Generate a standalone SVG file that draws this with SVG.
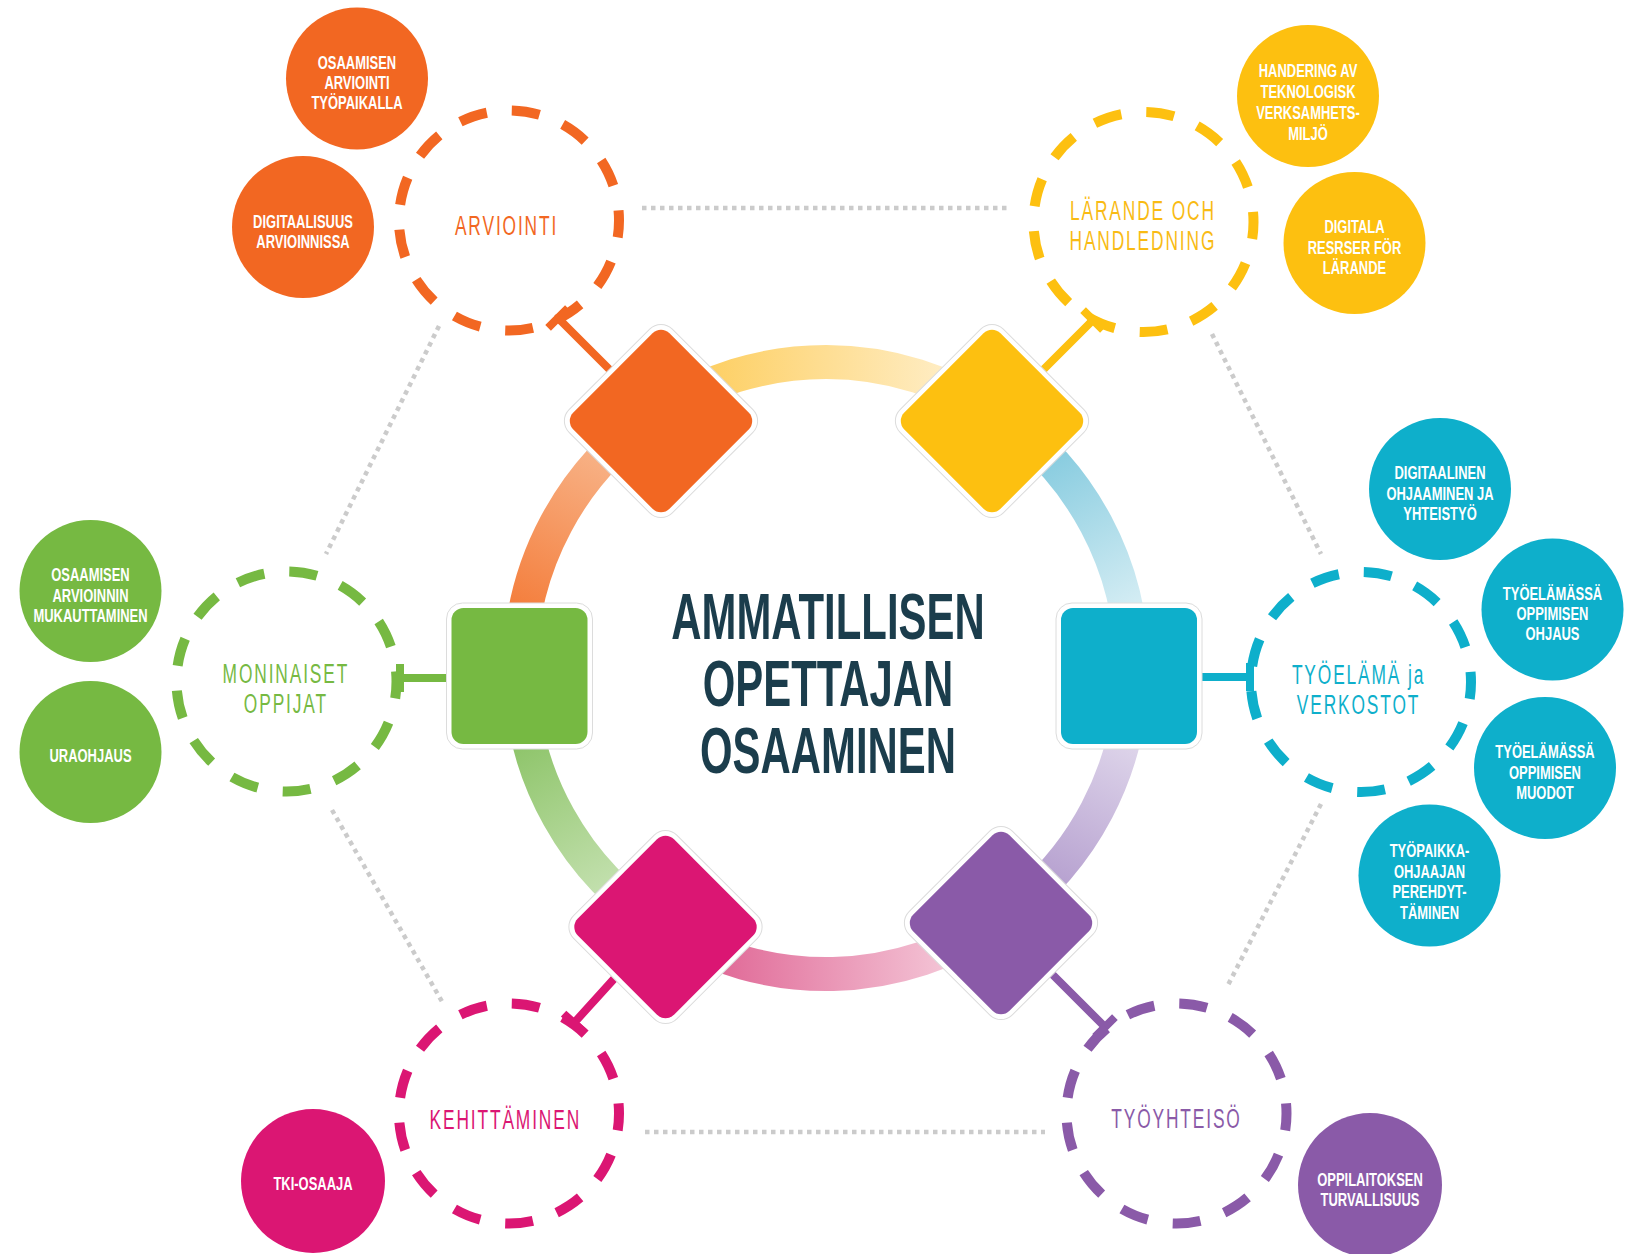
<svg xmlns="http://www.w3.org/2000/svg" width="1638" height="1254" viewBox="0 0 1638 1254">
<style>
.dot{fill:none;stroke:#cbcbcb;stroke-width:4.5;stroke-dasharray:4.5 4.5}
.arc{fill:none;stroke-width:34}
.tb{fill:none;stroke-width:8}
.hub{fill:none;stroke-width:10;stroke-dasharray:28 25.17;stroke-dashoffset:11}
.hl{font-family:"Liberation Sans",Arial,sans-serif;font-size:28px;letter-spacing:3px;text-anchor:middle}
.st{font-family:"Liberation Sans",Arial,sans-serif;font-weight:bold;font-size:18px;fill:#fff;text-anchor:middle}
.ct{font-family:"Liberation Sans",Arial,sans-serif;font-weight:bold;font-size:64px;fill:#1b3d4c;text-anchor:middle}
.frame{fill:#fff;stroke:#dcdcdc;stroke-width:1}
.or{fill:#f26722}.ye{fill:#fdc010}.gr{fill:#76b942}.cy{fill:#0eafcb}.pk{fill:#db1673}.pu{fill:#8a5aa8}
.sor{stroke:#f26722}.sye{stroke:#fdc010}.sgr{stroke:#76b942}.scy{stroke:#0eafcb}.spk{stroke:#db1673}.spu{stroke:#8a5aa8}
.tor{fill:#f26722}.tye{fill:#f9bb14}.tgr{fill:#76b942}.tcy{fill:#0eafcb}.tpk{fill:#db1673}.tpu{fill:#8a5aa8}
</style>
<defs>
<linearGradient id="gA1" gradientUnits="userSpaceOnUse" x1="520" y1="668" x2="656" y2="413"><stop offset="0" stop-color="#f36f27"/><stop offset="1" stop-color="#f9c4a0"/></linearGradient>
<linearGradient id="gA2" gradientUnits="userSpaceOnUse" x1="656" y1="413" x2="997" y2="414"><stop offset="0" stop-color="#fdc94f"/><stop offset="1" stop-color="#fff3d8"/></linearGradient>
<linearGradient id="gA3" gradientUnits="userSpaceOnUse" x1="997" y1="414" x2="1132" y2="668"><stop offset="0" stop-color="#6cc0d8"/><stop offset="1" stop-color="#ecf7fa"/></linearGradient>
<linearGradient id="gA4" gradientUnits="userSpaceOnUse" x1="1132" y1="668" x2="999" y2="920"><stop offset="0" stop-color="#eeeaf5"/><stop offset="1" stop-color="#a88ec6"/></linearGradient>
<linearGradient id="gA5" gradientUnits="userSpaceOnUse" x1="999" y1="920" x2="665" y2="928"><stop offset="0" stop-color="#f8d9e4"/><stop offset="1" stop-color="#dc5589"/></linearGradient>
<linearGradient id="gA6" gradientUnits="userSpaceOnUse" x1="665" y1="928" x2="520" y2="668"><stop offset="0" stop-color="#d6eac7"/><stop offset="1" stop-color="#7aba50"/></linearGradient>
<g id="sq">
<rect class="frame" x="-73" y="-73" width="146" height="146" rx="16"/>
</g>
</defs>

<g id="ring">
<path class="arc" stroke="url(#gA1)" d="M520,668 A306,306 0 0 1 656.2,413.4"/>
<path class="arc" stroke="url(#gA2)" d="M656.2,413.4 A306,306 0 0 1 996.7,414"/>
<path class="arc" stroke="url(#gA3)" d="M996.7,414 A306,306 0 0 1 1132,668"/>
<path class="arc" stroke="url(#gA4)" d="M1132,668 A306,306 0 0 1 999.3,920.2"/>
<path class="arc" stroke="url(#gA5)" d="M999.3,920.2 A306,306 0 0 1 664.7,928.1"/>
<path class="arc" stroke="url(#gA6)" d="M664.7,928.1 A306,306 0 0 1 520,668"/>
</g>

<g id="connectors">
<line class="dot" x1="642" y1="208" x2="1008" y2="208"/>
<line class="dot" x1="645" y1="1132" x2="1045" y2="1132"/>
<line class="dot" x1="439" y1="326" x2="326" y2="554"/>
<line class="dot" x1="332" y1="810" x2="444" y2="1005"/>
<line class="dot" x1="1212" y1="334" x2="1321" y2="554"/>
<line class="dot" x1="1321" y1="804" x2="1227" y2="987"/>
<path class="tb sor" d="M613,373 L558,318 M548.1,327.9 L567.9,308.1"/>
<path class="tb sye" d="M1040,373 L1093,320 M1083.1,310.1 L1102.9,329.9"/>
<path class="tb spk" d="M617.5,975 L574,1023 M563.6,1013.6 L584.4,1032.4"/>
<path class="tb spu" d="M1049,971 L1105,1027 M1095.1,1036.9 L1114.9,1017.1"/>
<path class="tb sgr" d="M452,678 L400,678 M400,664 L400,692"/>
<path class="tb scy" d="M1197,677 L1250,677 M1250,663 L1250,691"/>
</g>

<g id="hub-arviointi" transform="translate(509,220.5)">
<circle class="hub sor" r="110"/>
<text class="hl tor" transform="scale(0.62,1)"><tspan x="-4" y="14.5">ARVIOINTI</tspan></text>
</g>
<g id="hub-larande" transform="translate(1143.5,222)">
<circle class="hub sye" r="110"/>
<text class="hl tye" transform="scale(0.62,1)"><tspan x="-1" y="-2">LÄRANDE OCH</tspan><tspan x="-1" y="28">HANDLEDNING</tspan></text>
</g>
<g id="hub-moninaiset" transform="translate(286.5,681.5)">
<circle class="hub sgr" r="110"/>
<text class="hl tgr" transform="scale(0.62,1)"><tspan x="-1" y="1.5">MONINAISET</tspan><tspan x="-1" y="31.5">OPPIJAT</tspan></text>
</g>
<g id="hub-tyoelama" transform="translate(1361,682)">
<circle class="hub scy" r="110"/>
<text class="hl tcy" transform="scale(0.62,1)"><tspan x="-4" y="2">TYÖELÄMÄ ja</tspan><tspan x="-4" y="32">VERKOSTOT</tspan></text>
</g>
<g id="hub-kehittaminen" transform="translate(509,1113.5)">
<circle class="hub spk" r="110"/>
<text class="hl tpk" transform="scale(0.62,1)"><tspan x="-6" y="15.5">KEHITTÄMINEN</tspan></text>
</g>
<g id="hub-tyoyhteiso" transform="translate(1176.5,1113.5)">
<circle class="hub spu" r="110"/>
<text class="hl tpu" transform="scale(0.62,1)"><tspan x="0" y="14.5">TYÖYHTEISÖ</tspan></text>
</g>

<g id="node-orange" transform="translate(661,421) rotate(45)">
<use href="#sq"/><rect class="or" x="-68" y="-68" width="136" height="136" rx="12"/>
</g>
<g id="node-yellow" transform="translate(992,421) rotate(45)">
<use href="#sq"/><rect class="ye" x="-68" y="-68" width="136" height="136" rx="12"/>
</g>
<g id="node-green" transform="translate(519.5,676)">
<use href="#sq"/><rect class="gr" x="-68" y="-68" width="136" height="136" rx="12"/>
</g>
<g id="node-cyan" transform="translate(1129,676)">
<use href="#sq"/><rect class="cy" x="-68" y="-68" width="136" height="136" rx="12"/>
</g>
<g id="node-pink" transform="translate(665.5,927) rotate(45)">
<use href="#sq"/><rect class="pk" x="-68" y="-68" width="136" height="136" rx="12"/>
</g>
<g id="node-purple" transform="translate(1001,923) rotate(45)">
<use href="#sq"/><rect class="pu" x="-68" y="-68" width="136" height="136" rx="12"/>
</g>

<g id="center-title">
<text class="ct" transform="translate(828,0) scale(0.655,1)"><tspan x="0" y="639">AMMATILLISEN</tspan><tspan x="0" y="706">OPETTAJAN</tspan><tspan x="0" y="773">OSAAMINEN</tspan></text>
</g>

<g id="sat-osaamisen-arviointi-tyopaikalla" transform="translate(357,78.5)">
<circle class="or" r="71"/>
<text class="st" transform="scale(0.72,1)"><tspan x="0" y="-10">OSAAMISEN</tspan><tspan x="0" y="10.5">ARVIOINTI</tspan><tspan x="0" y="31">TYÖPAIKALLA</tspan></text>
</g>
<g id="sat-digitaalisuus" transform="translate(303,227)">
<circle class="or" r="71"/>
<text class="st" transform="scale(0.72,1)"><tspan x="0" y="0.5">DIGITAALISUUS</tspan><tspan x="0" y="21">ARVIOINNISSA</tspan></text>
</g>
<g id="sat-handering" transform="translate(1308,96)">
<circle class="ye" r="71"/>
<text class="st" transform="scale(0.72,1)"><tspan x="0" y="-19">HANDERING AV</tspan><tspan x="0" y="2">TEKNOLOGISK</tspan><tspan x="0" y="23">VERKSAMHETS-</tspan><tspan x="0" y="44">MILJÖ</tspan></text>
</g>
<g id="sat-digitala" transform="translate(1354.5,243)">
<circle class="ye" r="71"/>
<text class="st" transform="scale(0.72,1)"><tspan x="0" y="-10">DIGITALA</tspan><tspan x="0" y="10.5">RESRSER FÖR</tspan><tspan x="0" y="31">LÄRANDE</tspan></text>
</g>
<g id="sat-mukauttaminen" transform="translate(90.5,591)">
<circle class="gr" r="71"/>
<text class="st" transform="scale(0.72,1)"><tspan x="0" y="-10">OSAAMISEN</tspan><tspan x="0" y="10.5">ARVIOINNIN</tspan><tspan x="0" y="31">MUKAUTTAMINEN</tspan></text>
</g>
<g id="sat-uraohjaus" transform="translate(90.5,752)">
<circle class="gr" r="71"/>
<text class="st" transform="scale(0.72,1)"><tspan x="0" y="9.5">URAOHJAUS</tspan></text>
</g>
<g id="sat-digitaalinen" transform="translate(1440,489)">
<circle class="cy" r="71"/>
<text class="st" transform="scale(0.72,1)"><tspan x="0" y="-10">DIGITAALINEN</tspan><tspan x="0" y="10.5">OHJAAMINEN JA</tspan><tspan x="0" y="31">YHTEISTYÖ</tspan></text>
</g>
<g id="sat-ohjaus" transform="translate(1552.5,609.5)">
<circle class="cy" r="71"/>
<text class="st" transform="scale(0.72,1)"><tspan x="0" y="-10">TYÖELÄMÄSSÄ</tspan><tspan x="0" y="10.5">OPPIMISEN</tspan><tspan x="0" y="31">OHJAUS</tspan></text>
</g>
<g id="sat-muodot" transform="translate(1545,768)">
<circle class="cy" r="71"/>
<text class="st" transform="scale(0.72,1)"><tspan x="0" y="-10">TYÖELÄMÄSSÄ</tspan><tspan x="0" y="10.5">OPPIMISEN</tspan><tspan x="0" y="31">MUODOT</tspan></text>
</g>
<g id="sat-tyopaikkaohjaaja" transform="translate(1429.5,875.5)">
<circle class="cy" r="71"/>
<text class="st" transform="scale(0.72,1)"><tspan x="0" y="-19">TYÖPAIKKA-</tspan><tspan x="0" y="2">OHJAAJAN</tspan><tspan x="0" y="23">PEREHDYT-</tspan><tspan x="0" y="44">TÄMINEN</tspan></text>
</g>
<g id="sat-tki" transform="translate(313,1181)">
<circle class="pk" r="72"/>
<text class="st" transform="scale(0.72,1)"><tspan x="0" y="9">TKI-OSAAJA</tspan></text>
</g>
<g id="sat-turvallisuus" transform="translate(1370,1185)">
<circle class="pu" r="72"/>
<text class="st" transform="scale(0.72,1)"><tspan x="0" y="0.5">OPPILAITOKSEN</tspan><tspan x="0" y="21">TURVALLISUUS</tspan></text>
</g>
</svg>
